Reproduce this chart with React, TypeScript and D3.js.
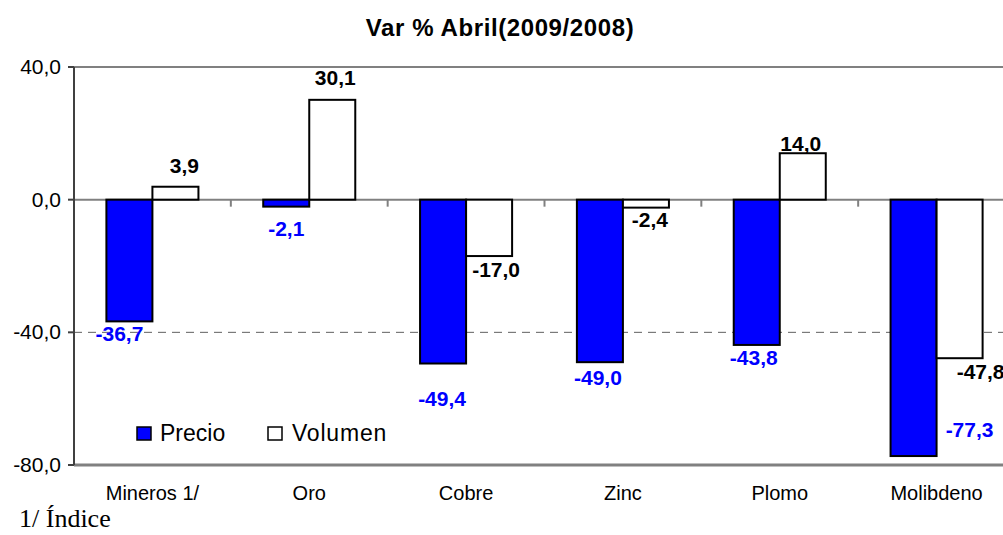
import React from 'react';
import * as d3 from 'd3';

const categories = ['Mineros 1/', 'Oro', 'Cobre', 'Zinc', 'Plomo', 'Molibdeno'];
const precio = [-36.7, -2.1, -49.4, -49.0, -43.8, -77.3];
const volumen = [3.9, 30.1, -17.0, -2.4, 14.0, -47.8];
const yTicks = [40, 0, -40, -80];
const seriesNames = ['Precio', 'Volumen'];

// hand-placed labels in the original, pixel nudges from the default spot
const precioNudge = [[-10, 0], [0, 9], [-1, 22], [-2, 3], [-3, 0], [56, -39]];
const volumenNudge = [[9, -10], [3, -11], [7, 1], [4, -1], [-2, 2], [21, 1]];

const W = 1003;
const H = 535;
const left = 74;
const right = 1015;
const top = 67;
const bottom = 465;

// excel style: comma decimals, plain hyphen for the minus sign
const fmt = (v: number) => d3.format('.1f')(v).replace('.', ',').replace('\u2212', '-');
const FONT = '"Liberation Sans", Arial, sans-serif';

export default function App() {
  const x0 = d3.scaleBand<string>().domain(categories).range([left, right]).padding(0);
  const x1 = d3.scaleBand<string>().domain(seriesNames).range([0, x0.bandwidth()]).paddingInner(0).paddingOuter(0.704);
  const y = d3.scaleLinear().domain([-80, 40]).range([bottom, top]);

  const series = [
    { name: 'Precio', values: precio, nudge: precioNudge, fill: '#0000ff', label: '#0000ff' },
    { name: 'Volumen', values: volumen, nudge: volumenNudge, fill: '#ffffff', label: '#000000' },
  ];

  return (
    <svg width={W} height={H} style={{ position: 'absolute', left: 0, top: 0, background: '#fff' }} fontFamily={FONT}>
      <text x={500} y={36} textAnchor="middle" fontSize={24} fontWeight="bold" letterSpacing={0.6}>
        Var % Abril(2009/2008)
      </text>

      {/* plot frame lines */}
      <line x1={left} x2={W} y1={y(40)} y2={y(40)} stroke="#808080" strokeWidth={2} />
      <line x1={left} x2={W} y1={y(-40)} y2={y(-40)} stroke="#606060" strokeWidth={1} strokeDasharray="8,6" />
      <line x1={left} x2={W} y1={y(-80)} y2={y(-80)} stroke="#808080" strokeWidth={3} />

      {/* category axis at zero */}
      <line x1={left} x2={W} y1={y(0)} y2={y(0)} stroke="#808080" strokeWidth={2} />
      {categories.slice(1).map(c => (
        <line key={c} x1={x0(c)!} x2={x0(c)!} y1={y(0)} y2={y(0) + 7} stroke="#808080" strokeWidth={2} />
      ))}

      {/* value axis */}
      <line x1={left} x2={left} y1={y(40)} y2={y(-80)} stroke="#404040" strokeWidth={2} />
      {yTicks.map(t => (
        <g key={t}>
          <line x1={left - 6} x2={left} y1={y(t)} y2={y(t)} stroke="#404040" strokeWidth={2} />
          <text x={61} y={y(t) + 7} textAnchor="end" fontSize={21}>{fmt(t)}</text>
        </g>
      ))}

      {/* bars */}
      {series.map(s => (
        <g key={s.name}>
          {s.values.map((v, i) => {
            const bx = x0(categories[i])! + x1(s.name)!;
            const y0 = y(0);
            const yv = y(v);
            return (
              <rect key={i} x={bx} y={Math.min(y0, yv)} width={x1.bandwidth()} height={Math.abs(yv - y0)}
                fill={s.fill} stroke="#000" strokeWidth={2} />
            );
          })}
        </g>
      ))}

      {/* data labels */}
      {series.map(s => (
        <g key={s.name + '-lbl'}>
          {s.values.map((v, i) => {
            const cx = x0(categories[i])! + x1(s.name)! + x1.bandwidth() / 2;
            const by = v < 0 ? y(v) + 20 : y(v) - 4;
            return (
              <text key={i} x={cx + s.nudge[i][0]} y={by + s.nudge[i][1]} textAnchor="middle"
                fontSize={21} fontWeight="bold" fill={s.label}>{fmt(v)}</text>
            );
          })}
        </g>
      ))}

      {/* category labels */}
      {categories.map(c => (
        <text key={c} x={x0(c)! + x0.bandwidth() / 2} y={500} textAnchor="middle" fontSize={20}>{c}</text>
      ))}

      {/* legend */}
      <rect x={137} y={427} width={14} height={13} fill="#0000ff" stroke="#000" strokeWidth={1.5} />
      <text x={160} y={441} fontSize={23}>Precio</text>
      <rect x={268} y={427} width={14} height={13} fill="#fff" stroke="#000" strokeWidth={1.5} />
      <text x={292} y={441} fontSize={23} letterSpacing={0.8}>Volumen</text>

      <text x={19} y={527} fontSize={26} fontFamily='"Liberation Serif", "Times New Roman", serif'>1/ Índice</text>
    </svg>
  );
}
